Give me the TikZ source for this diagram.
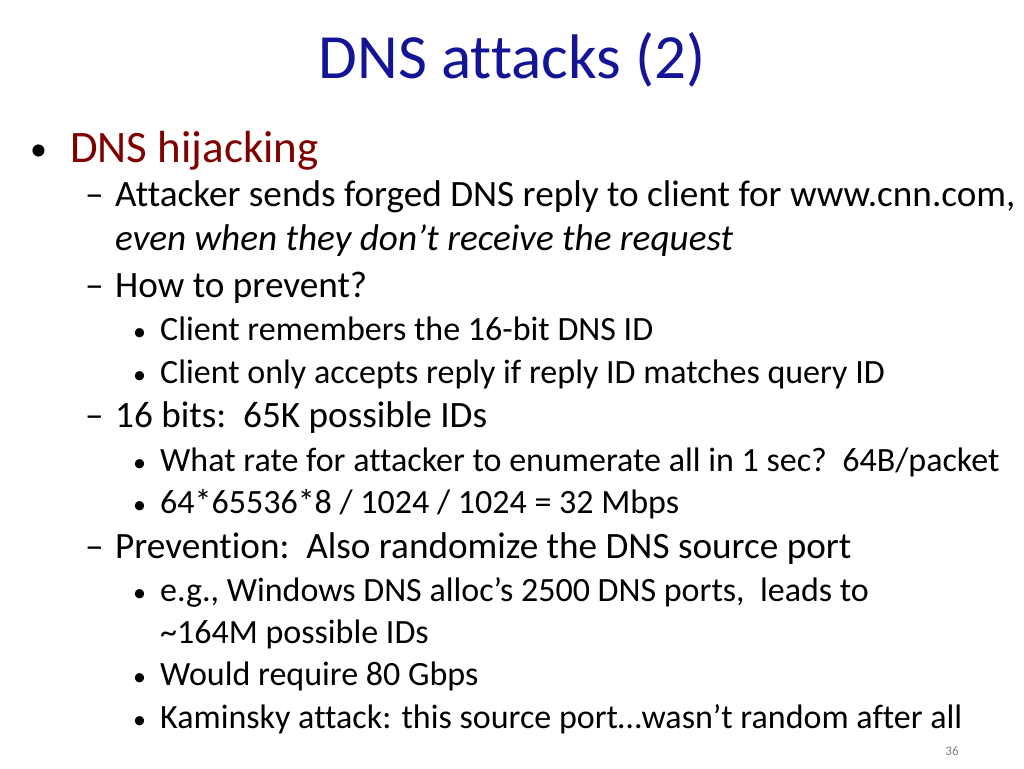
\documentclass[tikz,border=0pt]{standalone}
\usepackage{fontspec}
\setmainfont{Carlito}[Ligatures=NoCommon]
\usetikzlibrary{positioning}
\definecolor{titleblue}{RGB}{20,20,150}
\definecolor{darkred}{RGB}{128,0,0}
\tikzset{
  lone/.style={anchor=base west, inner sep=0pt, font=\fontsize{45}{54}\selectfont},
  ltwo/.style={anchor=base west, inner sep=0pt, font=\fontsize{37.2}{45}\selectfont},
  lthree/.style={anchor=base west, inner sep=0pt, font=\fontsize{34}{41}\selectfont},
  dot/.style={anchor=base west, inner sep=0pt, font=\fontsize{26}{30}\selectfont},
}
\begin{document}
\begin{tikzpicture}[x=1pt,y=-1pt]
    \useasboundingbox (0,0) rectangle (1024,768);
    % title
    \node[anchor=base, inner sep=0pt, text=titleblue, font=\fontsize{63}{72}\selectfont] (title) at (512,78) {DNS attacks (2)};
    % level 1
    \node[dot, font=\fontsize{34}{40}\selectfont] (b1) at (30,160) {\textbullet};
    \node[lone, text=darkred] (hij) at (70,162) {DNS hijacking};
    % level 2 and 3
    \node[ltwo] (d1) at (85,206) {--};
    \node[ltwo] (forged) at (115,206) {Attacker sends forged DNS reply to client for www.cnn.com,};
    \node[ltwo] (even) at (115,250) {\itshape even when they don’t receive the request};
    \node[ltwo] (d2) at (85,297) {--};
    \node[ltwo] (how) at (115,297) {How to prevent?};
    \node[dot] (b2) at (133,340) {\textbullet};
    \node[lthree] (remember) at (160,340) {Client remembers the 16-bit DNS ID};
    \node[dot] (b3) at (133,383) {\textbullet};
    \node[lthree] (accept) at (160,383) {Client only accepts reply if reply ID matches query ID};
    \node[ltwo] (d3) at (85,427) {--};
    \node[ltwo] (bits) at (115,427) {16 bits:\ \ 65K possible IDs};
    \node[dot] (b4) at (133,471) {\textbullet};
    \node[lthree] (rate) at (160,471) {What rate for attacker to enumerate all in 1 sec?\ \ 64B/packet};
    \node[dot] (b5) at (133,513) {\textbullet};
    \node[lthree] (calc) at (160,513) {64*65536*8 / 1024 / 1024 = 32 Mbps};
    \node[ltwo] (d4) at (85,558) {--};
    \node[ltwo] (prev) at (115,558) {Prevention:\ \ Also randomize the DNS source port};
    \node[dot] (b6) at (133,601) {\textbullet};
    \node[lthree] (win) at (160,601) {e.g., Windows DNS alloc’s 2500 DNS ports,\ \ leads to};
    \node[lthree] (ids) at (160,643) {\string~164M possible IDs};
    \node[dot] (b7) at (133,685) {\textbullet};
    \node[lthree] (gbps) at (160,685) {Would require 80 Gbps};
    \node[dot] (b8) at (133,728) {\textbullet};
    \node[lthree] (kam) at (160,728) {Kaminsky attack: this source port…wasn’t random after all};
    % page number
    \node[anchor=base, inner sep=0pt, text=gray, font=\fontsize{13}{16}\selectfont] (page) at (952,755) {36};
\end{tikzpicture}
\end{document}
